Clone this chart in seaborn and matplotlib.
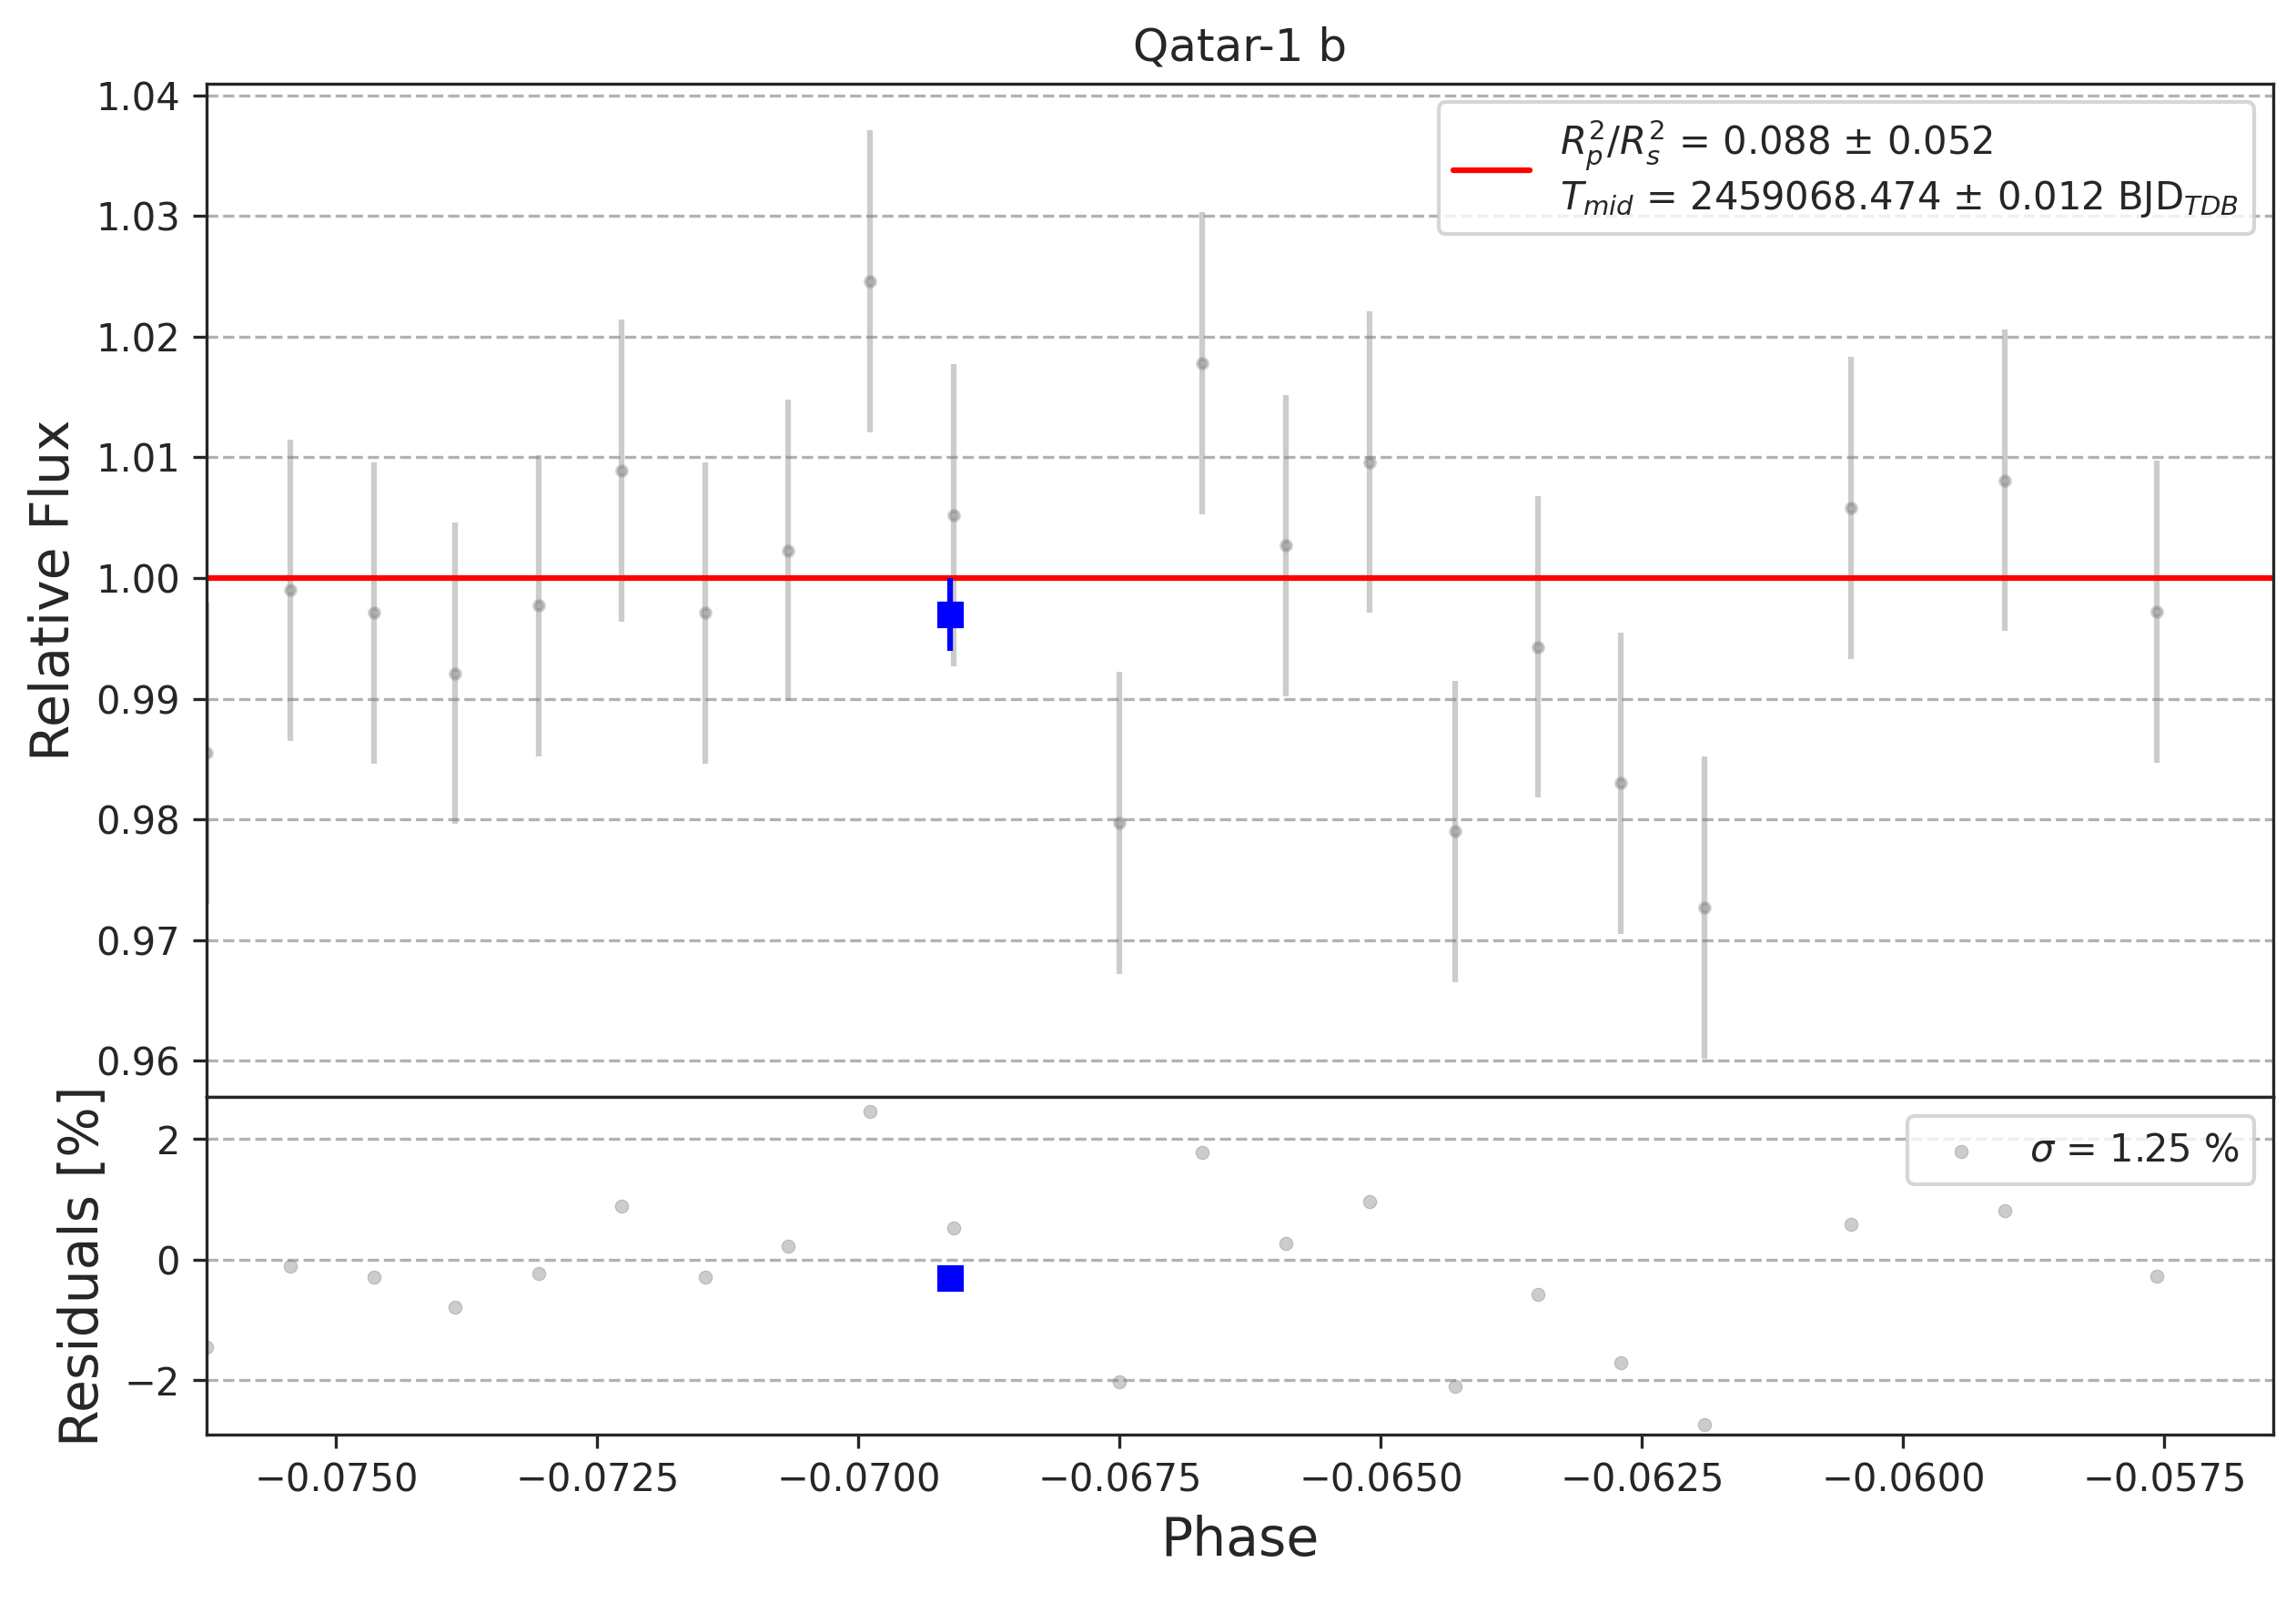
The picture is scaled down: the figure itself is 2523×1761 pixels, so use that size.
import numpy as np
import matplotlib
matplotlib.use("Agg")
import matplotlib.pyplot as plt
import seaborn as sns

phase = [-0.07624, -0.07544, -0.07464, -0.07386, -0.07306, -0.07227, -0.07147,
         -0.07067, -0.06989, -0.06909, -0.06750, -0.06671, -0.06591, -0.06511,
         -0.06429, -0.06350, -0.06270, -0.06190, -0.06050, -0.05903, -0.05757,
         -0.05610]
flux = [0.9855, 0.9990, 0.9971, 0.9921, 0.9977, 1.0089, 0.9971, 1.0023, 1.0246,
        1.0052, 0.9797, 1.0178, 1.0027, 1.0096, 0.9790, 0.9943, 0.9830, 0.9727,
        1.0058, 1.0081, 0.9972, 1.0065]
flux_err = [0.0125] * len(flux)
resid = [-1.45, -0.10, -0.29, -0.79, -0.23, 0.89, -0.29, 0.23, 2.46, 0.52,
         -2.03, 1.78, 0.27, 0.96, -2.10, -0.57, -1.70, -2.73, 0.58, 0.81,
         -0.28, 0.65]
bin_phase = [-0.06912]
bin_flux = [0.9970]
bin_err = [0.003]
bin_resid = [-0.30]

sns.set_style("ticks")
plt.rcParams["font.family"] = ["DejaVu Sans"]

fig, (ax, axr) = plt.subplots(2, 1, figsize=(8.41, 5.87), dpi=300, sharex=True,
                              gridspec_kw={"height_ratios": [3, 1], "hspace": 0})
fig.subplots_adjust(left=0.09, right=0.99, top=0.948, bottom=0.105)

ax.errorbar(phase, flux, yerr=flux_err, fmt=".", color="gray", alpha=0.4,
            markersize=5, elinewidth=1.5, zorder=1)
ax.axhline(1.0, color="red", lw=1.5, zorder=2,
           label="$R_{p}^{2}/R_{s}^{2}$ = 0.088 ± 0.052\n$T_{mid}$ = 2459068.474 ± 0.012 BJD$_{TDB}$")
ax.errorbar(bin_phase, bin_flux, yerr=bin_err, fmt="s", color="blue",
            markersize=6, elinewidth=1.5, zorder=3)
ax.set_ylim(0.957, 1.041)
ax.set_ylabel("Relative Flux", fontsize=14)
ax.set_title("Qatar-1 b")
ax.grid(axis="y", ls="--", color="gray", alpha=0.6)
ax.legend(loc="upper right", fontsize=10)

sns.scatterplot(x=phase, y=resid, ax=axr, color="gray", alpha=0.4, s=12,
                edgecolor="gray", label=r"$\sigma$ = 1.25 %")
axr.plot(bin_phase, bin_resid, "s", color="blue", markersize=6)
axr.set_ylim(-2.9, 2.7)
axr.set_xlim(-0.07624, -0.05646)
axr.set_ylabel("Residuals [%]", fontsize=14)
axr.set_xlabel("Phase", fontsize=14)
axr.grid(axis="y", ls="--", color="gray", alpha=0.6)
axr.legend(loc="upper right", fontsize=10)
axr.set_xticks(np.arange(-0.0750, -0.0570, 0.0025))
axr.xaxis.set_major_formatter(matplotlib.ticker.FormatStrFormatter("%.4f"))
axr.set_xticklabels([f"\u2212{abs(t):.4f}" for t in axr.get_xticks()])

fig.savefig("out.png", dpi=300)
